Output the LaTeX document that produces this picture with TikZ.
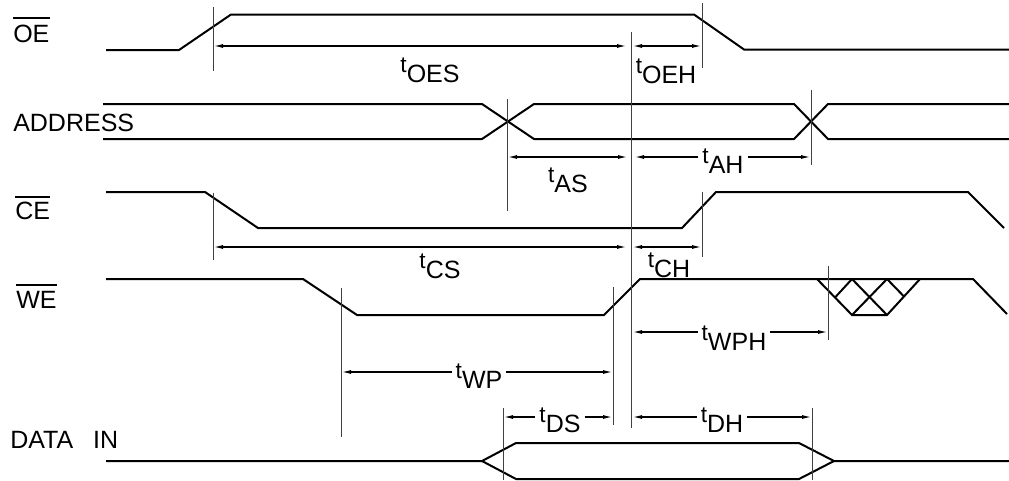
\documentclass[tikz,border=0pt]{standalone}
\usepackage{fontspec}
\setmainfont{Liberation Sans}
\usetikzlibrary{arrows.meta}
\newcommand{\tsub}[1]{\raisebox{7pt}{\fontsize{17}{17}\selectfont t}#1}
\begin{document}
\begin{tikzpicture}[x=0.75pt,y=-0.75pt,>={Latex[length=7.5pt,width=3pt]},
 sig/.style={line width=1.5pt},
 refline/.style={line width=0.7pt,black!75},
 dim/.style={line width=1.1pt},
 lab/.style={inner sep=0pt,outer sep=3pt,anchor=base,font=\fontsize{18.75}{20}\selectfont},
 signame/.style={inner sep=0pt,anchor=base west,font=\fontsize{18.75}{20}\selectfont}]
 \useasboundingbox (0,0) rectangle (1009,480);
 \draw[sig] (106,50)--(179,50)--(231,14.5)--(694,14.5)--(744,49.5)--(1009,49.5);
 \draw[sig] (103,104)--(482,104)--(534,139)--(794,139)--(828,104)--(1009,104);
 \draw[sig] (103,139)--(482,139)--(534,104)--(794,104)--(828,139)--(1009,139);
 \draw[sig] (106,192)--(205,192)--(258,228)--(682,228)--(716,192)--(968,192)--(1004,228);
 \draw[sig] (106,279)--(303,279)--(357,315)--(604,315)--(640,279)--(973,279)--(1007,314);
 \draw[sig] (817,279)--(852,315)--(887,315)--(920,279);
 \draw[sig] (852,279)--(887,315) (887,279)--(904,296.5) (852,315)--(887,279) (852,279)--(835,297.5);
 \draw[sig] (106,461)--(482,461)--(516,443)--(799,443)--(834,461)--(1009,461);
 \draw[sig] (482,461)--(516,479)--(799,479)--(834,461);
 \node[signame] (nOE) at (13,42) {OE};
 \draw[line width=1.2pt] (nOE.west|-0,18) -- (nOE.east|-0,18);
 \node[signame] (nADDR) at (13,131) {ADDRESS};
 \node[signame] (nCE) at (15,219) {CE};
 \draw[line width=1.2pt] (nCE.west|-0,197) -- (nCE.east|-0,197);
 \node[signame] (nWE) at (16,308) {WE};
 \draw[line width=1.2pt] (nWE.west|-0,285) -- (nWE.east|-0,285);
 \node[signame] (nDATA) at (10,448) {DATA\hspace{15pt}IN};
 \draw[refline] (213,7)--(213,71) (213,193)--(213,260) (702,3)--(702,68) (702,192)--(702,257)
 (631,32)--(631,428) (507,99)--(507,211) (811,90)--(811,165) (341,288)--(341,437)
 (613,287)--(613,425) (828,266)--(828,340) (503,408)--(503,480) (812,408)--(812,480);
 \node[lab] (lOES) at (430,82) {\tsub{OES}};
 \node[lab] (lOEH) at (666,83) {\tsub{OEH}};
 \node[lab] (lAS) at (568,192) {\tsub{AS}};
 \node[lab] (lAH) at (723,173) {\tsub{AH}};
 \node[lab] (lCS) at (440,278) {\tsub{CS}};
 \node[lab] (lCH) at (669,277) {\tsub{CH}};
 \node[lab] (lWP) at (479,388) {\tsub{WP}};
 \node[lab] (lWPH) at (734,350) {\tsub{WPH}};
 \node[lab] (lDS) at (560,432) {\tsub{DS}};
 \node[lab] (lDH) at (722,432) {\tsub{DH}};
 \draw[dim,<->] (213,46) -- (627,46);
 \draw[dim,<->] (632,46) -- (702,46);
 \draw[dim,<->] (507,157) -- (628,157);
 \draw[dim,->] (lAH.west|-0,157) -- (634,157);
 \draw[dim,->] (lAH.east|-0,157) -- (811,157);
 \draw[dim,<->] (213,247) -- (627,247);
 \draw[dim,<->] (632,247) -- (702,247);
 \draw[dim,->] (lWP.west|-0,372) -- (341,372);
 \draw[dim,->] (lWP.east|-0,372) -- (613,372);
 \draw[dim,->] (lWPH.west|-0,332) -- (632,332);
 \draw[dim,->] (lWPH.east|-0,332) -- (828,332);
 \draw[dim,->] (lDS.west|-0,417) -- (503,417);
 \draw[dim,->] (lDS.east|-0,417) -- (613,417);
 \draw[dim,->] (lDH.west|-0,417) -- (632,417);
 \draw[dim,->] (lDH.east|-0,417) -- (812,417);
\end{tikzpicture}
\end{document}
